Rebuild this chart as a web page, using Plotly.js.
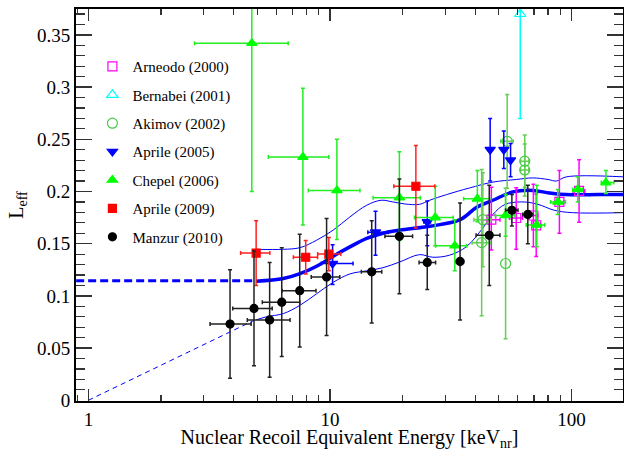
<!DOCTYPE html>
<html><head><meta charset="utf-8">
<script src="https://cdn.plot.ly/plotly-3.0.1.min.js"></script>
<style>body{margin:0;padding:0;background:#fff}#chart{width:624px;height:451px}</style>
</head><body><div id="chart"></div>
<script>
// ---- data ----
const arneodoX = [46.6, 59.1, 69.6, 71.5, 89.2, 107.6];
const arneodoY = [0.173, 0.1746, 0.177, 0.1676, 0.190, 0.2005];
const arneodoYp = [0.031, 0.029, 0.030, 0.030, 0.030, 0.030];
const arneodoYm = [0.029, 0.030, 0.030, 0.030, 0.030, 0.030];
const arneodoXe = [4, 3.7, 3, 3, 3.7, 6];

const bernabeiX = [61.4];
const bernabeiY = [0.370];
const bernabeiYe = [0.100];

const akimovX = [42.5, 43.0, 53.4, 54.2, 64.1, 64.1];
const akimovY = [0.151, 0.173, 0.131, 0.248, 0.229, 0.2206];
const akimovYe = [0.070, 0.045, 0.072, 0.045, 0.025, 0.025];
const akimovXe = [3.7, 3.5, 0, 3.2, 2.5, 2.5];

const aprile05X = [10.26, 15.45, 25.3, 46.1, 52.5, 56.0];
const aprile05Y = [0.131, 0.161, 0.171, 0.240, 0.240, 0.230];
const aprile05Yp = [0.018, 0.020, 0.020, 0.030, 0.018, 0.016];
const aprile05Ym = [0.020, 0.022, 0.023, 0.030, 0.018, 0.016];
const aprile05Xp = [2.21, 2.01, 0.8, 0, 0, 0];
const aprile05Xm = [1.04, 1.09, 0.8, 0, 0, 0];

const chepelX = [4.75, 7.73, 10.69, 19.4, 27.3, 32.9, 40.8, 53.4, 71.9, 87.8, 106.2, 139];
const chepelY = [0.342, 0.233, 0.201, 0.194, 0.175, 0.148, 0.193, 0.177, 0.168, 0.190, 0.202, 0.2085];
const chepelYp = [0.142, 0.066, 0.049, 0.044, 0.030, 0.025, 0.027, 0.020, 0.038, 0.012, 0.012, 0.0115];
const chepelYm = [0.142, 0.065, 0.047, 0.041, 0.027, 0.024, 0.022, 0.020, 0.021, 0.012, 0.012, 0.0105];
const chepelXp = [1.97, 2.17, 2.63, 4.3, 5.1, 4.0, 5.1, 5.0, 5.7, 6.7, 5, 11];
const chepelXm = [2.0, 2.17, 2.55, 4.3, 4.9, 5.5, 5.0, 5.0, 6.9, 5.8, 5, 6];

const aprile09X = [4.95, 7.94, 9.9, 22.7];
const aprile09Y = [0.141, 0.137, 0.140, 0.205];
const aprile09Yp = [0.031, 0.016, 0.016, 0.039];
const aprile09Ym = [0.031, 0.016, 0.016, 0.040];
const aprile09Xp = [0.69, 0.95, 1.2, 4.5];
const aprile09Xm = [0.68, 0.88, 1.0, 4.3];

const manzurX = [3.86, 4.85, 5.63, 6.32, 7.50, 9.69, 14.9, 19.4, 25.3, 34.6, 45.7, 56.7, 66.0];
const manzurY = [0.073, 0.088, 0.077, 0.094, 0.105, 0.118, 0.123, 0.157, 0.132, 0.133, 0.158, 0.182, 0.178];
const manzurYe = [0.052, 0.055, 0.055, 0.052, 0.054, 0.056, 0.049, 0.055, 0.026, 0.056, 0.048, 0.015, 0.028];
const manzurXp = [0.86, 0.92, 1.21, 1.19, 1.26, 1.30, 1.5, 2.6, 2.1, 1.2, 4.9, 3.4, 3.2];
const manzurXm = [0.67, 0.89, 1.08, 1.07, 1.16, 1.32, 1.4, 2.5, 1.9, 1.2, 5.4, 3.3, 3.2];

const fitX = [4.95, 6.41, 7.52, 8.81, 10.32, 12.1, 14.2, 16.6, 19.46, 25.9, 34.6, 40.4, 47.3, 57.2, 69.2, 81.1, 95, 130, 165];
const fitY = [0.114, 0.1166, 0.1213, 0.1284, 0.138, 0.1469, 0.155, 0.160, 0.163, 0.1667, 0.173, 0.1846, 0.1916, 0.1996, 0.201, 0.1986, 0.197, 0.197, 0.197];
const upperX = [4.95, 6.41, 7.52, 8.81, 10.32, 12.1, 14.2, 16.3, 18.2, 20.5, 23.5, 25.9, 30.4, 37.9, 47.3, 59.1, 69.2, 80, 86.6, 95.2, 165];
const upperY = [0.1446, 0.1446, 0.1462, 0.1533, 0.163, 0.1756, 0.1868, 0.1916, 0.190, 0.188, 0.1877, 0.1916, 0.197, 0.2034, 0.209, 0.2115, 0.213, 0.2115, 0.210, 0.214, 0.214];
const lowerX = [4.95, 5.47, 6.41, 7.52, 8.81, 10.32, 12.1, 14.2, 16.6, 19.46, 23.5, 26.7, 31.3, 36.7, 43.0, 47.3, 53, 62, 72, 85, 101, 165];
const lowerY = [0.077, 0.080, 0.083, 0.091, 0.102, 0.113, 0.121, 0.124, 0.127, 0.1325, 0.1395, 0.137, 0.139, 0.147, 0.165, 0.178, 0.1875, 0.190, 0.188, 0.182, 0.1797, 0.1797];
const lowDashX = [0.89, 4.95];
const lowDashY = [0.1146, 0.1146];
const originDashX = [1, 5.0];
const originDashY = [0, 0.078];

// ---- traces ----
const blue = '#0000ff';
function line(x, y, w, dash, shape) {
  return {x, y, type: 'scatter', mode: 'lines', showlegend: false, hoverinfo: 'skip',
          line: {color: blue, width: w, dash: dash || 'solid', shape: shape || 'linear', smoothing: 1}};
}
function pts(name, x, y, sym, size, color, ecolor, ey, ex) {
  return {x, y, name, type: 'scatter', mode: 'markers', legendgroup: name,
          marker: {symbol: sym, size: size, color: color, line: {color: color, width: 1.2}},
          error_y: Object.assign({type: 'data', color: ecolor, thickness: 1.5, width: 2}, ey),
          error_x: Object.assign({type: 'data', color: ecolor, thickness: 1.5, width: 2}, ex)};
}
const traces = [
  line(originDashX, originDashY, 1, '5px,4px'),
  line(lowDashX, lowDashY, 3, '8px,4px'),
  line(lowerX, lowerY, 1, 'solid', 'spline'),
  line(upperX, upperY, 1, 'solid', 'spline'),
  line(fitX, fitY, 3.5, 'solid', 'spline'),
  pts('Arneodo (2000)', arneodoX, arneodoY, 'square-open', 9, '#ff00ff', '#ff00ff',
      {symmetric: false, array: arneodoYp, arrayminus: arneodoYm}, {array: arneodoXe}),
  pts('Bernabei (2001)', bernabeiX, bernabeiY, 'triangle-up-open', 10, '#00ffff', '#00ffff',
      {array: bernabeiYe}, {array: [0], visible: false}),
  pts('Akimov (2002)', akimovX, akimovY, 'circle-open', 10, '#44cc44', '#66cc55',
      {array: akimovYe}, {array: akimovXe}),
  pts('Aprile (2005)', aprile05X, aprile05Y, 'triangle-down', 9, blue, blue,
      {symmetric: false, array: aprile05Yp, arrayminus: aprile05Ym}, {symmetric: false, array: aprile05Xp, arrayminus: aprile05Xm}),
  pts('Chepel (2006)', chepelX, chepelY, 'triangle-up', 9, '#00ff00', '#22ee22',
      {symmetric: false, array: chepelYp, arrayminus: chepelYm}, {symmetric: false, array: chepelXp, arrayminus: chepelXm}),
  pts('Aprile (2009)', aprile09X, aprile09Y, 'square', 8, '#ff0000', '#ff2222',
      {symmetric: false, array: aprile09Yp, arrayminus: aprile09Ym}, {symmetric: false, array: aprile09Xp, arrayminus: aprile09Xm}),
  pts('Manzur (2010)', manzurX, manzurY, 'circle', 8, '#000000', '#222222',
      {array: manzurYe}, {symmetric: false, array: manzurXp, arrayminus: manzurXm})
];

const font = "'Liberation Serif', 'Times New Roman', serif";
const layout = {
  width: 624, height: 451,
  margin: {l: 76, r: 1, t: 9, b: 50},
  paper_bgcolor: '#fff', plot_bgcolor: '#fff',
  font: {family: font, color: '#000', size: 18},
  showlegend: true,
  legend: {x: 0.03, y: 0.895, xanchor: 'left', yanchor: 'top', bgcolor: 'rgba(0,0,0,0)',
           font: {family: font, size: 15, color: '#000'}, tracegroupgap: 5.9, traceorder: 'grouped'},
  xaxis: {type: 'log', range: [-0.0513, 2.2137], showgrid: false, zeroline: false,
          showline: true, linecolor: '#000', linewidth: 2, mirror: 'ticks',
          ticks: 'inside', ticklen: 12, tickwidth: 1.5, tickcolor: '#333',
          tickvals: [1, 10, 100], ticktext: ['1', '10', '100'],
          tickfont: {family: font, size: 19},
          minor: {ticks: 'inside', ticklen: 6, tickwidth: 1.2, tickcolor: '#333', dtick: 'D1', showgrid: false},
          title: {text: 'Nuclear Recoil Equivalent Energy [keV<sub>nr</sub>]', font: {family: font, size: 20}, standoff: 7},
          automargin: false},
  yaxis: {range: [-0.0007, 0.3748], showgrid: false, zeroline: false,
          showline: true, linecolor: '#000', linewidth: 2, mirror: 'ticks',
          ticks: 'inside', ticklen: 16, tickwidth: 1.5, tickcolor: '#333',
          tickvals: [0, 0.05, 0.1, 0.15, 0.2, 0.25, 0.3, 0.35],
          ticktext: ['0', '0.05', '0.1', '0.15', '0.2', '0.25', '0.3', '0.35'],
          tickfont: {family: font, size: 19},
          minor: {ticks: 'inside', ticklen: 9, tickwidth: 1.2, tickcolor: '#333', dtick: 0.01, showgrid: false},
          title: {text: 'L<sub>eff</sub>', font: {family: font, size: 20}, standoff: 8},
          automargin: false}
};
Plotly.newPlot('chart', traces, layout, {displayModeBar: false, staticPlot: true});
</script></body></html>
